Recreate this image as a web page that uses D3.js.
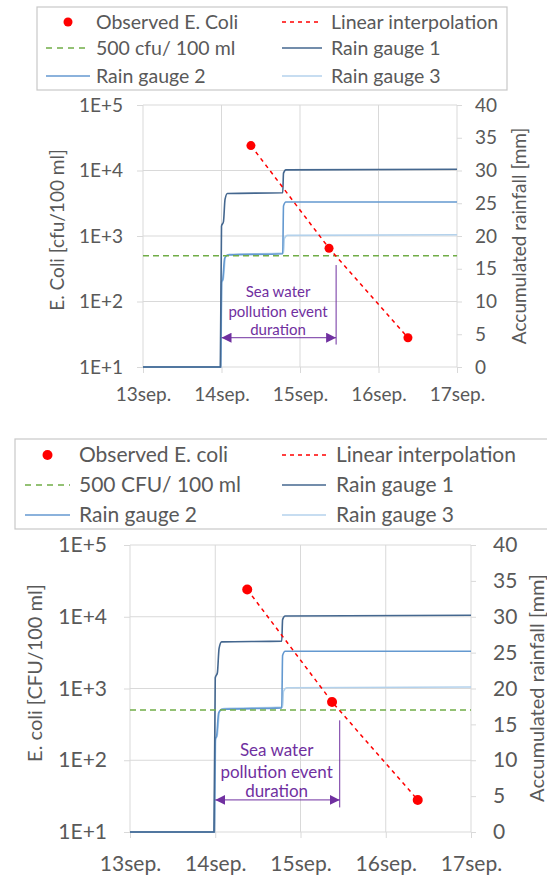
<!DOCTYPE html>
<html>
<head>
<meta charset="utf-8" />
<title>E. coli and accumulated rainfall</title>
<script src="https://d3js.org/d3.v7.min.js"></script>
<style>
  body { margin: 0; background: #fff; }
  svg { display: block; font-family: Lato, "Open Sans", sans-serif; }
  text { fill: #595959; }
</style>
</head>
<body>
<svg id="chart" width="547" height="883"></svg>
<script>
  // days counted from 13 sep 00:00
  var dayTicks = [0, 1, 2, 3, 4];
  var dayLabels = ["13sep.", "14sep.", "15sep.", "16sep.", "17sep."];
  var logTicks = [1e1, 1e2, 1e3, 1e4, 1e5];
  var rainTicks = [0, 5, 10, 15, 20, 25, 30, 35, 40];

  var ecoliDays = [1.375, 2.37, 3.375];
  var ecoliValues = [24000, 650, 28];
  var threshold = 500;

  // accumulated rainfall [day, mm]
  var gauge1 = [[0, 0], [0.985, 0], [1.0, 21.5], [1.025, 22.2], [1.045, 25.6], [1.075, 26.5], [1.78, 26.6], [1.79, 29.6], [1.82, 30.1], [4, 30.2]];
  var gauge2 = [[0, 0], [0.99, 0], [1.0, 13.0], [1.015, 13.3], [1.04, 16.6], [1.08, 17.1], [1.78, 17.3], [1.79, 24.6], [1.82, 25.2], [4, 25.2]];
  var gauge3 = [[0, 0], [0.99, 0], [1.005, 12.8], [1.025, 13.6], [1.05, 16.8], [1.1, 17.2], [1.79, 17.4], [1.8, 19.6], [1.84, 20.1], [4, 20.2]];

  // pollution event annotation
  var eventStart = 1.0, eventEnd = 2.46;
  var eventArrowLevel = 28, eventLineTop = 360, eventLineBottom = 22;
  var eventTextDay = 1.72;
  var eventText = ["Sea water", "pollution event", "duration"];
  var eventTextLevels = [140, 69, 37];

  var legendTop = ["Observed E. Coli", "Linear interpolation", "500 cfu/ 100 ml", "Rain gauge 1", "Rain gauge 2", "Rain gauge 3"];
  var legendBottom = ["Observed E. coli", "Linear interpolation", "500 CFU/ 100 ml", "Rain gauge 1", "Rain gauge 2", "Rain gauge 3"];

  var colors = {
    obs: "#ff0000", interp: "#ff0000", limit: "#70ad47",
    g1: "#44678f", g2: "#6499d0", g3: "#b4d2ec", purple: "#7030a0"
  };

  var svg = d3.select("#chart");

  svg.append("defs").append("marker")
    .attr("id", "arrow")
    .attr("viewBox", "0 0 10 10")
    .attr("refX", 10).attr("refY", 5)
    .attr("markerWidth", 10).attr("markerHeight", 10)
    .attr("markerUnits", "userSpaceOnUse")
    .attr("orient", "auto-start-reverse")
    .append("path").attr("d", "M0,0L10,5L0,10Z").attr("fill", colors.purple);

  function drawPanel(p) {
    var g = svg.append("g");
    var x = d3.scaleLinear().domain([0, 4]).range([p.x0, p.x1]);
    var y = d3.scaleLog().domain([10, 1e5]).range([p.y1, p.y0]);
    var y2 = d3.scaleLinear().domain([0, 40]).range([p.y1, p.y0]);

    // grid
    g.append("g").selectAll("line").data(logTicks).join("line")
      .attr("x1", p.x0).attr("x2", p.x1)
      .attr("y1", d => y(d)).attr("y2", d => y(d))
      .attr("stroke", "#d9d9d9");
    g.append("g").selectAll("line").data(dayTicks).join("line")
      .attr("x1", d => x(d)).attr("x2", d => x(d))
      .attr("y1", p.y0).attr("y2", p.y1)
      .attr("stroke", "#d9d9d9");

    function styleAxis(sel) {
      sel.select(".domain").remove();
      sel.selectAll(".tick line").attr("stroke", "#d9d9d9");
      sel.selectAll(".tick text").attr("fill", "#595959")
        .style("font-size", p.tickFont + "px").style("font-family", "Lato");
    }

    g.append("g").attr("transform", "translate(" + p.x0 + ",0)")
      .call(d3.axisLeft(y).tickValues(logTicks)
        .tickFormat(d => "1E+" + Math.round(Math.log10(d)))
        .tickSize(6).tickPadding(p.leftPad))
      .call(styleAxis);
    g.append("g").attr("transform", "translate(0," + p.y1 + ")")
      .call(d3.axisBottom(x).tickValues(dayTicks)
        .tickFormat((d, i) => dayLabels[i])
        .tickSize(6).tickPadding(p.bottomPad))
      .call(styleAxis);
    g.append("g").attr("transform", "translate(" + p.x1 + ",0)")
      .call(d3.axisRight(y2).tickValues(rainTicks)
        .tickSize(5).tickPadding(p.rightPad))
      .call(styleAxis);

    // axis titles
    g.append("text")
      .attr("transform", "translate(" + p.leftTitleX + "," + p.leftTitleY + ") rotate(-90)")
      .attr("text-anchor", "middle").attr("dy", "0.35em")
      .style("font-size", p.titleFont + "px")
      .text(p.leftTitle);
    g.append("text")
      .attr("transform", "translate(" + p.rightTitleX + "," + p.rightTitleY + ") rotate(-90)")
      .attr("text-anchor", "middle").attr("dy", "0.35em")
      .style("font-size", p.titleFont + "px")
      .text("Accumulated rainfall [mm]");

    // rain gauges
    var rainLine = d3.line().x(d => x(d[0])).y(d => y2(d[1])).curve(d3.curveMonotoneX);
    [[gauge3, colors.g3], [gauge2, colors.g2], [gauge1, colors.g1]].forEach(function (s) {
      g.append("path").datum(s[0]).attr("d", rainLine)
        .attr("fill", "none").attr("stroke", s[1]).attr("stroke-width", 1.6);
    });

    // 500 limit
    g.append("line")
      .attr("x1", x(0)).attr("x2", x(4))
      .attr("y1", y(threshold)).attr("y2", y(threshold))
      .attr("stroke", colors.limit).attr("stroke-width", 1.5)
      .attr("stroke-dasharray", "6,4");

    // interpolation + observations
    var obs = ecoliDays.map((d, i) => [d, ecoliValues[i]]);
    g.append("path").datum(obs)
      .attr("d", d3.line().x(d => x(d[0])).y(d => y(d[1])))
      .attr("fill", "none").attr("stroke", colors.interp)
      .attr("stroke-width", 1.5).attr("stroke-dasharray", "4,4");
    g.append("g").selectAll("circle").data(obs).join("circle")
      .attr("cx", d => x(d[0])).attr("cy", d => y(d[1]))
      .attr("r", p.dotR).attr("fill", colors.obs);

    // annotation
    g.append("line")
      .attr("x1", x(eventStart)).attr("x2", x(eventEnd))
      .attr("y1", y(eventArrowLevel)).attr("y2", y(eventArrowLevel))
      .attr("stroke", colors.purple).attr("stroke-width", 1)
      .attr("marker-start", "url(#arrow)").attr("marker-end", "url(#arrow)");
    g.append("line")
      .attr("x1", x(eventEnd)).attr("x2", x(eventEnd))
      .attr("y1", y(eventLineTop)).attr("y2", y(eventLineBottom))
      .attr("stroke", colors.purple).attr("stroke-width", 1);
    g.append("g").selectAll("text").data(eventText).join("text")
      .attr("x", x(eventTextDay)).attr("y", (d, i) => y(eventTextLevels[i]))
      .attr("dy", "0.35em").attr("text-anchor", "middle")
      .style("font-size", p.noteFont + "px").style("fill", colors.purple)
      .text(d => d);

    // legend
    var lg = g.append("g");
    lg.append("rect")
      .attr("x", p.legX).attr("y", p.legY).attr("width", p.legW).attr("height", p.legH)
      .attr("fill", "#fff").attr("stroke", "#c8c8c8").attr("stroke-width", 1.2);
    var items = [
      { type: "dot", color: colors.obs },
      { type: "line", color: colors.interp, dash: "4,4" },
      { type: "line", color: colors.limit, dash: "6,5" },
      { type: "line", color: colors.g1 },
      { type: "line", color: colors.g2 },
      { type: "line", color: colors.g3 }
    ];
    items.forEach(function (it, i) {
      var col = i % 2, row = Math.floor(i / 2);
      var cy = p.legRows[row];
      var l0 = col ? p.rLine0 : p.lLine0, l1 = col ? p.rLine1 : p.lLine1;
      if (it.type === "dot") {
        lg.append("circle").attr("cx", (l0 + l1) / 2).attr("cy", cy)
          .attr("r", p.dotR).attr("fill", it.color);
      } else {
        lg.append("line").attr("x1", l0).attr("x2", l1).attr("y1", cy).attr("y2", cy)
          .attr("stroke", it.color).attr("stroke-width", 1.5)
          .attr("stroke-dasharray", it.dash || null);
      }
      lg.append("text")
        .attr("x", col ? p.rText : p.lText).attr("y", cy).attr("dy", "0.35em")
        .style("font-size", p.legFont + "px")
        .text(p.legend[i]);
    });
  }

  drawPanel({
    x0: 143, x1: 457, y0: 105, y1: 367,
    tickFont: 19, leftPad: 14, bottomPad: 15, rightPad: 13,
    titleFont: 19, leftTitle: "E. Coli [cfu/100 ml]",
    leftTitleX: 57, leftTitleY: 230, rightTitleX: 519, rightTitleY: 236,
    dotR: 4.5, noteFont: 15,
    legX: 37, legY: 7, legW: 470, legH: 83, legRows: [22, 48, 76],
    lLine0: 46, lLine1: 90, lText: 96, rLine0: 282, rLine1: 322, rText: 331,
    legFont: 19.5, legend: legendTop
  });

  drawPanel({
    x0: 130, x1: 471, y0: 545, y1: 832,
    tickFont: 21, leftPad: 17, bottomPad: 18, rightPad: 17,
    titleFont: 20, leftTitle: "E. coli [CFU/100 ml]",
    leftTitleX: 35, leftTitleY: 673, rightTitleX: 537, rightTitleY: 688,
    dotR: 5, noteFont: 17,
    legX: 15, legY: 439, legW: 560, legH: 90, legRows: [455, 485, 515],
    lLine0: 25, lLine1: 70, lText: 79, rLine0: 282, rLine1: 326, rText: 336,
    legFont: 21, legend: legendBottom
  });
</script>
</body>
</html>
